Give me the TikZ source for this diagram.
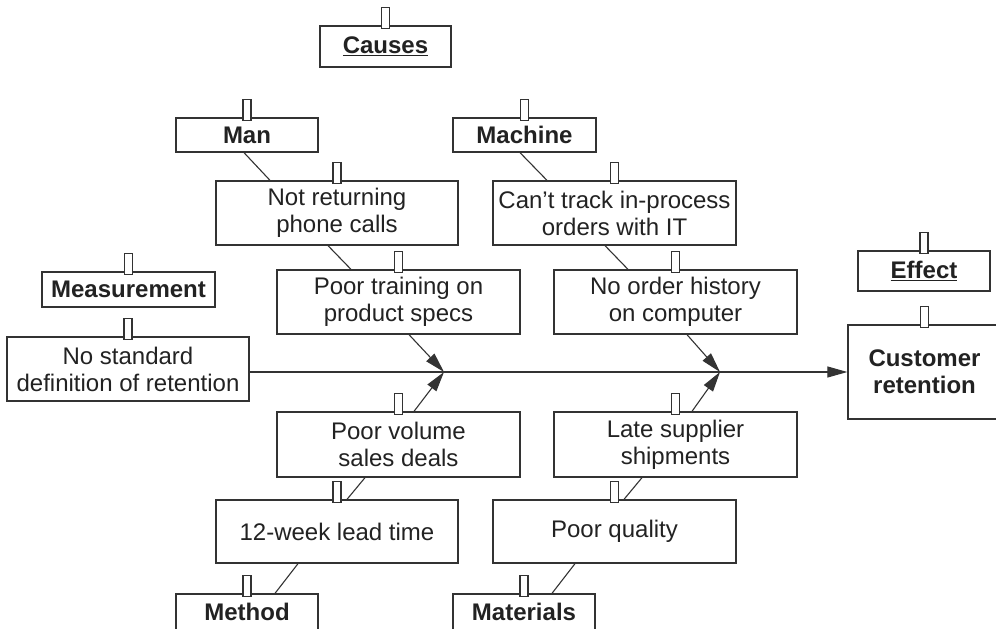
\documentclass[tikz,border=0pt]{standalone}
\usepackage{fontspec}
\setmainfont{Liberation Sans}
\usetikzlibrary{arrows.meta}
\definecolor{ink}{HTML}{222222}
\definecolor{edge}{HTML}{333333}
\tikzset{
  box/.style={draw=edge, line width=1.3pt, fill=white, inner sep=0pt, align=center,
    text=ink, font=\fontsize{24}{27}\selectfont},
  bbox/.style={box, font=\fontsize{24}{27}\selectfont\bfseries},
  tabst/.style={draw=edge, line width=1.1pt, fill=white},
  link/.style={draw=edge, line width=1.1pt},
  arr/.style={link, -{Triangle[length=20pt,width=11pt]}},
}
\newcommand{\tabon}[1]{\draw[tabst] ([xshift=-4pt,yshift=-3pt]#1.north) rectangle ([xshift=4pt,yshift=18pt]#1.north);}
\begin{document}
\begin{tikzpicture}[x=1pt,y=-1pt]
\useasboundingbox (0,0) rectangle (996,629);
% category and cause boxes
\node[bbox, minimum width=131, minimum height=41] (causes) at (385.5,46.5) {\underline{Causes}};
\node[bbox, minimum width=142, minimum height=34] (man) at (247,135) {Man};
\node[bbox, minimum width=143, minimum height=34] (machine) at (524.5,135) {Machine};
\node[box, minimum width=242, minimum height=64] (notret) at (337,213) {Not returning\\phone calls};
\node[box, minimum width=243, minimum height=64] (cant) at (614.5,213) {Can’t track in-process\\orders with IT};
\node[bbox, minimum width=173, minimum height=35] (meas) at (128.5,289.5) {Measurement};
\node[box, minimum width=243, minimum height=64] (train) at (398.5,302) {Poor training on\\product specs};
\node[box, minimum width=243, minimum height=64] (order) at (675.5,302) {No order history\\on computer};
\node[bbox, minimum width=132, minimum height=40] (effect) at (924,271) {\underline{Effect}};
\node[box, minimum width=242, minimum height=64] (nostd) at (128,369) {No standard\\definition of retention};
\node[bbox, minimum width=153, minimum height=94] (cust) at (924.5,372) {Customer\\retention};
\node[box, minimum width=243, minimum height=65] (vol) at (398.5,444.5) {Poor volume\\sales deals};
\node[box, minimum width=243, minimum height=65] (late) at (675.5,444.5) {Late supplier\\shipments};
\node[box, minimum width=242, minimum height=63] (lead) at (337,531.5) {12-week lead time};
\node[box, minimum width=243, minimum height=63] (qual) at (614.5,531.5) {Poor quality};
\node[bbox, minimum width=142, minimum height=36] (method) at (247,612) {Method};
\node[bbox, minimum width=142, minimum height=36] (mat) at (524,612) {Materials};
% junctions on the spine
\coordinate (j1) at (444,372);
\coordinate (j2) at (720,372);
% spine
\draw[arr] (nostd.east |- cust.west) -- (cust.west);
% upper branches
\draw[link] ([xshift=-3pt]man.south) -- ([xshift=-67pt]notret.north);
\draw[link] ([xshift=-9pt]notret.south) -- ([xshift=-47.5pt]train.north);
\draw[arr] ([xshift=10.5pt]train.south) -- (j1);
\draw[link] ([xshift=-4.5pt]machine.south) -- ([xshift=-67.5pt]cant.north);
\draw[link] ([xshift=-9.5pt]cant.south) -- ([xshift=-47.5pt]order.north);
\draw[arr] ([xshift=11.5pt]order.south) -- (j2);
% lower branches
\draw[arr] ([xshift=15.5pt]vol.north) -- (j1);
\draw[link] ([xshift=10pt]lead.north) -- ([xshift=-33.5pt]vol.south);
\draw[link] ([xshift=28pt]method.north) -- ([xshift=-39pt]lead.south);
\draw[arr] ([xshift=16.5pt]late.north) -- (j2);
\draw[link] ([xshift=9.5pt]qual.north) -- ([xshift=-33.5pt]late.south);
\draw[link] ([xshift=28pt]mat.north) -- ([xshift=-39.5pt]qual.south);
% tabs
\foreach \n in {causes,man,machine,notret,cant,meas,train,order,effect,nostd,cust,vol,late,lead,qual,method,mat}{\tabon{\n}}
\end{tikzpicture}
\end{document}
